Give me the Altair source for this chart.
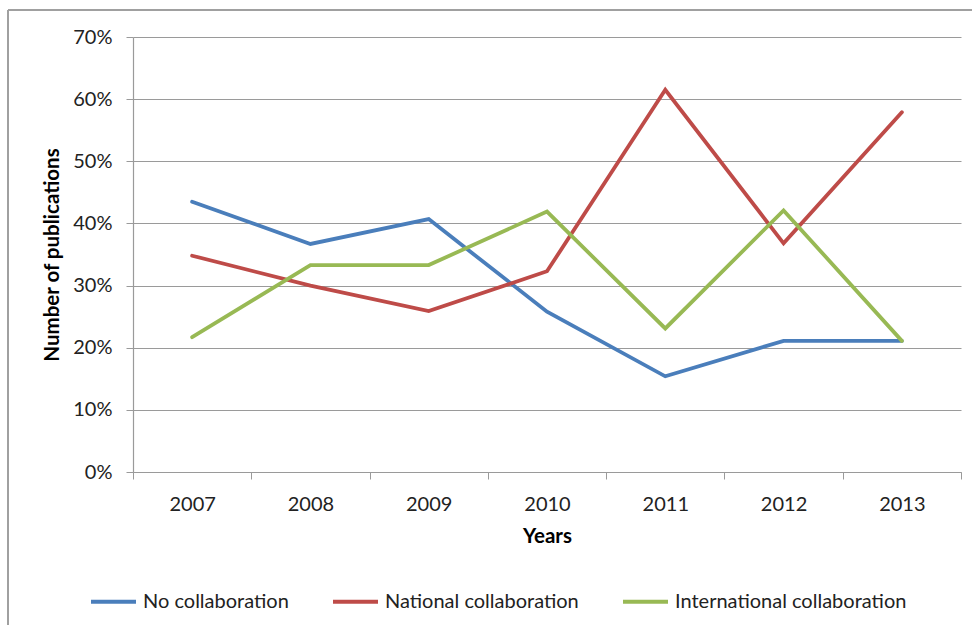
import altair as alt
import pandas as pd

# Share of publications by collaboration type, 2007-2013
years = ["2007", "2008", "2009", "2010", "2011", "2012", "2013"]
no_collab = [0.435, 0.367, 0.407, 0.258, 0.154, 0.211, 0.211]
national = [0.348, 0.300, 0.259, 0.323, 0.615, 0.368, 0.579]
international = [0.217, 0.333, 0.333, 0.419, 0.231, 0.421, 0.211]

series_names = ["No collaboration", "National collaboration", "International collaboration"]
series_colors = ["#4A7EBB", "#BE4B48", "#98B954"]

rows = []
for name, vals in zip(series_names, [no_collab, national, international]):
    for y, v in zip(years, vals):
        rows.append({"Year": y, "Share": v, "Series": name})
df = pd.DataFrame(rows)

FONT = "Lato"
GRID = "#9a9a9a"

lines = alt.Chart(df).mark_line(strokeWidth=3.8, strokeCap="round", strokeJoin="miter").encode(
    x=alt.X(
        "Year:O",
        sort=years,
        scale=alt.Scale(type="band", paddingInner=0, paddingOuter=0),
        axis=alt.Axis(
            title="Years",
            labelAngle=0,
            tickBand="extent",
            grid=False,
            domainColor=GRID,
            tickColor=GRID,
            tickSize=7,
            labelPadding=15,
            titlePadding=12,
        ),
    ),
    y=alt.Y(
        "Share:Q",
        scale=alt.Scale(domain=[0, 0.7], nice=False),
        axis=alt.Axis(
            title="Number of publications",
            format=".0%",
            values=[0, 0.1, 0.2, 0.3, 0.4, 0.5, 0.6, 0.7],
            grid=True,
            gridColor=GRID,
            domainColor=GRID,
            tickColor=GRID,
            tickSize=7,
            labelPadding=14,
            titlePadding=10,
        ),
    ),
    color=alt.Color(
        "Series:N",
        sort=series_names,
        scale=alt.Scale(domain=series_names, range=series_colors),
        legend=alt.Legend(
            title=None,
            orient="none",
            direction="horizontal",
            legendX=-44,
            legendY=540,
            symbolType="stroke",
            symbolSize=2025,
            symbolStrokeWidth=4,
            labelOffset=5,
            labelLimit=0,
            columnPadding=36,
        ),
    ),
)

# Outer frame around the whole figure
frame_top = alt.Chart(df).mark_rule(color="#a0a0a0", strokeWidth=1.5).encode(
    x=alt.value(-125), x2=alt.value(845), y=alt.value(-27)
)
frame_left = alt.Chart(df).mark_rule(color="#a0a0a0", strokeWidth=1.5).encode(
    x=alt.value(-125), y=alt.value(-27), y2=alt.value(600)
)

chart = (
    alt.layer(frame_top, frame_left, lines)
    .properties(
        width=828,
        height=435,
        autosize="none",
        padding={"left": 133, "top": 37, "right": 11, "bottom": 153},
    )
    .configure_view(stroke=None)
    .configure_axis(
        labelFont=FONT,
        titleFont=FONT,
        labelFontSize=20,
        titleFontSize=20.5,
        labelColor="#222222",
        titleColor="#000000",
        titleFontWeight="bold",
        gridWidth=1,
        domainWidth=1.2,
    )
    .configure_legend(labelFont=FONT, labelFontSize=20, labelColor="#222222")
)

chart.save("out.html", embed_options={"renderer": "svg", "actions": False})
